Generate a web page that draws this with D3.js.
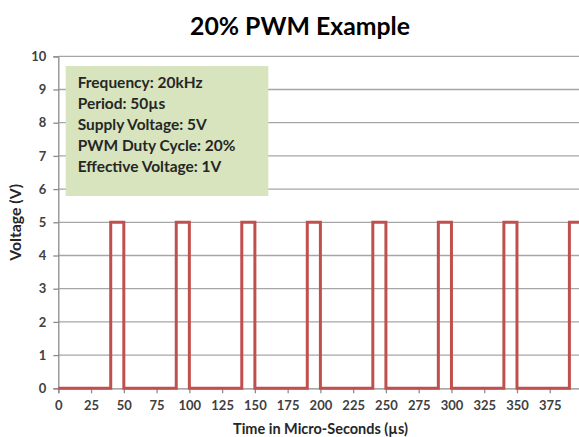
<!DOCTYPE html>
<html>
<head>
<meta charset="utf-8">
<script src="https://cdn.jsdelivr.net/npm/d3@7"></script>
<style>
  html, body { margin: 0; padding: 0; background: #fff; }
  svg { display: block; }
  text { font-family: Lato, "Open Sans", sans-serif; }
</style>
</head>
<body>
<script>
// ---- data ----
const timeUs = [0, 40, 40, 50, 50, 90, 90, 100, 100, 140, 140, 150, 150, 190, 190, 200, 200,
                240, 240, 250, 250, 290, 290, 300, 300, 340, 340, 350, 350, 390, 390, 400];
const voltage = [0, 0, 5, 5, 0, 0, 5, 5, 0, 0, 5, 5, 0, 0, 5, 5, 0,
                 0, 5, 5, 0, 0, 5, 5, 0, 0, 5, 5, 0, 0, 5, 5];
const xTickValues = [0, 25, 50, 75, 100, 125, 150, 175, 200, 225, 250, 275, 300, 325, 350, 375];
const yTickValues = [0, 1, 2, 3, 4, 5, 6, 7, 8, 9, 10];
const infoLines = ["Frequency: 20kHz", "Period: 50\u00b5s", "Supply Voltage: 5V",
                   "PWM Duty Cycle: 20%", "Effective Voltage: 1V"];
const title = "20% PWM Example";
const xTitle = "Time in Micro-Seconds (\u00b5s)";
const yTitle = "Voltage (V)";

// ---- layout ----
const W = 579, H = 437;
const svg = d3.select("body").append("svg").attr("width", W).attr("height", H);

const x = d3.scaleLinear().domain([0, 400]).range([58.3, 582.5]);
const y = d3.scaleLinear().domain([0, 10]).range([388.3, 56.3]);

function fit(sel, target) {
  const node = sel.node();
  const fs = parseFloat(sel.attr("font-size"));
  const w = node.getComputedTextLength();
  sel.attr("font-size", (fs * target / w).toFixed(2));
}

// gridlines
svg.append("g").selectAll("line")
  .data(yTickValues.filter(d => d > 0))
  .join("line")
  .attr("x1", x(0)).attr("x2", W)
  .attr("y1", d => y(d)).attr("y2", d => y(d))
  .attr("stroke", "#a6a6a6").attr("stroke-width", 1.3);

// y axis
const yAxis = svg.append("g").attr("transform", `translate(${x(0)},0)`)
  .call(d3.axisLeft(y).tickValues(yTickValues).tickSize(5).tickPadding(7).tickFormat(d3.format("d")));
yAxis.select(".domain").attr("stroke", "#8c8c8c").attr("stroke-width", 1.3);
yAxis.selectAll(".tick line").attr("stroke", "#8c8c8c").attr("stroke-width", 1.3);
yAxis.selectAll(".tick text").attr("font-size", 13).attr("fill", "#404040")
  .attr("font-family", "Lato, sans-serif").attr("font-weight", "bold");

// x axis
const xAxis = svg.append("g").attr("transform", `translate(0,${y(0)})`)
  .call(d3.axisBottom(x).tickValues(xTickValues).tickSize(5).tickPadding(7).tickFormat(d3.format("d")));
xAxis.select(".domain").attr("stroke", "#8c8c8c").attr("stroke-width", 1.3);
xAxis.selectAll(".tick line").attr("stroke", "#8c8c8c").attr("stroke-width", 1.3);
xAxis.selectAll(".tick text").attr("font-size", 13).attr("fill", "#404040")
  .attr("font-family", "Lato, sans-serif").attr("font-weight", "bold");

// info box
svg.append("rect")
  .attr("x", 65.7).attr("y", 66).attr("width", 202.6).attr("height", 130)
  .attr("fill", "#d7e4bd");
const info = svg.append("g");
infoLines.forEach((t, i) => {
  info.append("text")
    .attr("x", 77.7).attr("y", 88.3 + i * 21)
    .attr("font-size", 14).attr("font-weight", "bold").attr("fill", "#262626")
    .text(t);
});
fit(info.select("text"), 125);
const infoFs = info.select("text").attr("font-size");
info.selectAll("text").attr("font-size", infoFs);

// line
const line = d3.line().x((d, i) => x(timeUs[i])).y(d => y(d));
svg.append("path")
  .attr("d", line(voltage))
  .attr("fill", "none")
  .attr("stroke", "#c0504d")
  .attr("stroke-width", 3)
  .attr("stroke-linejoin", "miter");

// title
const t = svg.append("text")
  .attr("x", 300).attr("y", 35).attr("text-anchor", "middle")
  .attr("font-size", 24).attr("font-weight", "bold").attr("fill", "#000")
  .text(title);
fit(t, 220);

// axis titles
const xt = svg.append("text")
  .attr("x", 320.5).attr("y", 434).attr("text-anchor", "middle")
  .attr("font-size", 13).attr("font-weight", "bold").attr("fill", "#262626")
  .text(xTitle);
fit(xt, 175);

const yt = svg.append("text")
  .attr("transform", `translate(21,${(y(0) + y(10)) / 2}) rotate(-90)`)
  .attr("text-anchor", "middle")
  .attr("font-size", 13).attr("font-weight", "bold").attr("fill", "#262626")
  .text(yTitle);
fit(yt, 77);
</script>
</body>
</html>
